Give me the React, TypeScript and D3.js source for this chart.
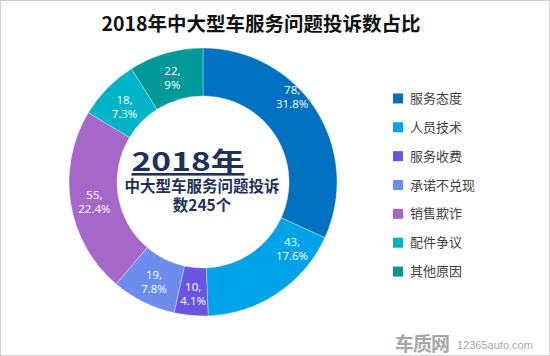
import React from "react";
import * as d3 from "d3";

const categories = ["服务态度", "人员技术", "服务收费", "承诺不兑现", "销售欺诈", "配件争议", "其他原因"];
const values = [78, 43, 10, 19, 55, 18, 22];
const percents = ["31.8%", "17.6%", "4.1%", "7.8%", "22.4%", "7.3%", "9%"];
const colors = ["#0070C0", "#00A2E8", "#6A55E0", "#6C8CEE", "#A668C8", "#00B4C8", "#00999A"];
const title = "2018年中大型车服务问题投诉数占比";
const centerLines = ["2018年", "中大型车服务问题投诉", "数245个"];

const W = 550;
const H = 356;
const FONT = "'Noto Sans CJK SC', 'Microsoft YaHei', sans-serif";

// label placement inside each slice: fraction along the slice angle, and radius factor
const LABEL_FRAC = [0.4, 0.18, 0.5, 0.5, 0.5, 0.5, 0.5];
const LABEL_RAD = [1.13, 1.0, 1.0, 1.0, 1.0, 1.0, 1.0];

export default function App() {
  const cx = 203;
  const cy = 182;
  const outerR = 134;
  const innerR = 86;
  const pie = d3.pie<number>().sort(null).value((d) => d);
  const arcs = pie(values);
  const arc = d3.arc<d3.PieArcDatum<number>>().innerRadius(innerR).outerRadius(outerR);
  const midR = (innerR + outerR) / 2;

  const legendY = d3.scaleBand<string>().domain(categories).range([84, 286]);

  return (
    <svg
      width={W}
      height={H}
      style={{ position: "absolute", left: 0, top: 0, background: "#fff" }}
      fontFamily={FONT}
    >
      <rect x={0.5} y={0.5} width={W - 1} height={H - 1} fill="#fff" stroke="#d0d0d0" />
      <text x={261} y={31} textAnchor="middle" fontSize={19.5} fontWeight="bold" fill="#111">
        {title}
      </text>
      <g transform={`translate(${cx},${cy})`}>
        {arcs.map((a, i) => (
          <path key={i} d={arc(a) || ""} fill={colors[i]} stroke="rgba(255,255,255,0.5)" strokeWidth={0.7} />
        ))}
        {arcs.map((a, i) => {
          const ang = a.startAngle + (a.endAngle - a.startAngle) * LABEL_FRAC[i];
          const r = midR * LABEL_RAD[i];
          const x = Math.sin(ang) * r;
          const y = -Math.cos(ang) * r;
          return (
            <text key={"l" + i} x={x} y={y} textAnchor="middle" fontSize={11.5} fill="#fff" fontFamily="'Open Sans', 'Noto Sans', sans-serif">
              <tspan x={x} dy={-1}>{values[i]},</tspan>
              <tspan x={x} dy={14}>{percents[i]}</tspan>
            </text>
          );
        })}
      </g>
      <text x={188} y={171} textAnchor="middle" fontSize={26} fontWeight="bold" fill="#1F3158" textDecoration="underline" textLength={113} lengthAdjust="spacingAndGlyphs">
        {centerLines[0]}
      </text>
      <text x={202} y={192} textAnchor="middle" fontSize={15.5} fontWeight="bold" fill="#1F3158">
        {centerLines[1]}
      </text>
      <text x={202} y={211} textAnchor="middle" fontSize={15.5} fontWeight="bold" fill="#1F3158">
        {centerLines[2]}
      </text>
      {categories.map((c, i) => {
        const y = (legendY(c) || 0) + legendY.bandwidth() / 2;
        return (
          <g key={"g" + i}>
            <rect x={393} y={y - 5} width={10} height={10} fill={colors[i]} />
            <text x={410} y={y + 4.5} fontSize={13} fill="#404040">
              {c}
            </text>
          </g>
        );
      })}
      <g opacity={0.75}>
        <text x={395} y={351} fontSize={19} fontWeight="bold" fill="#8a8a8a" letterSpacing={-1}>
          车质网
        </text>
        <text x={457} y={349} fontSize={11} fill="#8a8a8a" fontFamily="'Liberation Sans', Arial, sans-serif">
          12365auto.com
        </text>
      </g>
    </svg>
  );
}
